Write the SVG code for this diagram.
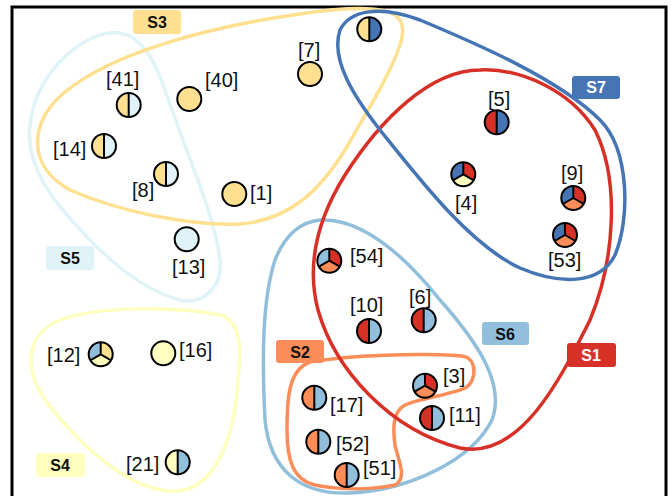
<svg xmlns="http://www.w3.org/2000/svg" xmlns:xlink="http://www.w3.org/1999/xlink" width="671" height="496" viewBox="0 0 671 496">
<style>
.hull{fill:none;stroke-width:3.5}
.lbl{font-family:"Liberation Sans",Arial,sans-serif;font-size:20px;fill:#111}
.badge text{font-family:"Liberation Sans",Arial,sans-serif;font-size:16px;font-weight:bold;text-anchor:middle}
.o{fill:none;stroke:#000;stroke-width:2}
.d{stroke:#000;stroke-width:2;fill:none}
</style>
<defs>
<path id="hl" d="M0,-12 A12,12 0 0 0 0,12 Z"/>
<path id="hr" d="M0,-12 A12,12 0 0 1 0,12 Z"/>
<path id="tl" d="M0,0 L0,-12 A12,12 0 0 0 -10.39,6 Z"/>
<path id="tr" d="M0,0 L0,-12 A12,12 0 0 1 10.39,6 Z"/>
<path id="bt" d="M0,0 L-10.39,6 A12,12 0 0 0 10.39,6 Z"/>
<path id="v" d="M0,-12 V12"/>
<path id="y" d="M0,0 V-12 M0,0 L-10.39,6 M0,0 L10.39,6"/>
<circle id="c" r="12"/>
</defs>
<rect x="12" y="7" width="654" height="600" fill="#fff" stroke="#000" stroke-width="3"/>

<g id="connectors">
<path id="S5-hull" class="hull" stroke="#e0f3f8" d="M110,33 C130,30 150,45 165,90 C185,150 215,215 220,260 C223,290 200,305 180,300 C150,292 120,270 95,245 C50,200 25,165 30,125 C35,75 80,35 110,33 Z"/>
<path id="S3-hull" class="hull" stroke="#fee090" stroke-width="4" d="M395,15 C380,5 340,8 300,14 C200,28 110,55 65,92 C30,120 25,165 70,190 C120,212 190,226 240,224 C290,220 320,190 345,150 C365,115 390,75 400,45 C405,30 402,20 395,15 Z"/>
<path id="S4-hull" class="hull" stroke="#ffffbf" stroke-width="4" d="M60,320 C100,305 180,307 220,315 C245,322 240,360 238,380 C235,430 220,480 185,490 C150,497 110,470 80,440 C50,410 25,380 32,350 C36,335 45,326 60,320 Z"/>
<path id="S6-hull" class="hull" stroke="#91bfdb" d="M320,220 C360,218 400,250 440,300 C480,345 505,385 492,420 C472,460 410,490 350,493 C300,495 270,470 265,420 C262,360 262,300 275,260 C285,235 300,222 320,220 Z"/>
<path id="S2-hull" class="hull" stroke="#fc8d59" d="M310,362 C350,355 420,353 462,356 C478,358 477,382 465,388 C450,395 420,398 405,405 C392,412 393,430 395,445 C398,460 408,478 395,485 C370,490 340,490 315,485 C293,480 287,460 287,430 C287,400 288,370 310,362 Z"/>
<path id="S1-hull" class="hull" stroke="#d73027" d="M480,70 C430,70 380,120 345,175 C320,215 305,260 318,310 C335,370 390,430 460,448 C520,460 560,380 590,320 C615,260 620,180 595,130 C570,90 520,68 480,70 Z"/>
<path id="S7-hull" class="hull" stroke="#4575b4" d="M340,30 C350,10 380,5 420,20 C480,45 560,80 600,120 C630,150 630,220 615,255 C600,285 560,285 520,268 C470,245 420,180 380,130 C355,98 330,60 340,30 Z"/>
</g>

<g id="badges" class="badge">
<g id="S3"><rect x="133" y="10" width="48" height="24" rx="3" fill="#fee090"/><text x="157" y="28" fill="#111">S3</text></g>
<g id="S7"><rect x="572" y="76" width="48" height="23" rx="3" fill="#4575b4"/><text x="596" y="93" fill="#fff">S7</text></g>
<g id="S5"><rect x="46" y="246" width="48" height="24" rx="3" fill="#e0f3f8"/><text x="70" y="264" fill="#111">S5</text></g>
<g id="S4"><rect x="36" y="453" width="49" height="24" rx="3" fill="#ffffbf"/><text x="60" y="471" fill="#111">S4</text></g>
<g id="S6"><rect x="482" y="322" width="47" height="23" rx="3" fill="#91bfdb"/><text x="505" y="340" fill="#111">S6</text></g>
<g id="S2"><rect x="276" y="340" width="48" height="23" rx="3" fill="#fc8d59"/><text x="300" y="358" fill="#111">S2</text></g>
<g id="S1"><rect x="567" y="343" width="49" height="24" rx="3" fill="#d73027"/><text x="591" y="361" fill="#fff">S1</text></g>
</g>

<g id="n7" transform="translate(310,74)"><use href="#c" fill="#fee090"/><use href="#c" class="o"/></g>
<text class="lbl" x="298" y="57">[7]</text>
<g id="n40" transform="translate(189.3,99)"><use href="#c" fill="#fee090"/><use href="#c" class="o"/></g>
<text class="lbl" x="205" y="87">[40]</text>
<g id="n41" transform="translate(128.7,105)"><use href="#hl" fill="#fee090"/><use href="#hr" fill="#e0f3f8"/><use href="#v" class="d"/><use href="#c" class="o"/></g>
<text class="lbl" x="106" y="86">[41]</text>
<g id="n14" transform="translate(104,146)"><use href="#hl" fill="#fee090"/><use href="#hr" fill="#e0f3f8"/><use href="#v" class="d"/><use href="#c" class="o"/></g>
<text class="lbl" x="53" y="156">[14]</text>
<g id="n8" transform="translate(166,174)"><use href="#hl" fill="#fee090"/><use href="#hr" fill="#e0f3f8"/><use href="#v" class="d"/><use href="#c" class="o"/></g>
<text class="lbl" x="132" y="197">[8]</text>
<g id="n1" transform="translate(234.3,194)"><use href="#c" fill="#fee090"/><use href="#c" class="o"/></g>
<text class="lbl" x="250" y="200">[1]</text>
<g id="n13" transform="translate(186.7,239.3)"><use href="#c" fill="#e0f3f8"/><use href="#c" class="o"/></g>
<text class="lbl" x="172" y="274">[13]</text>
<g id="ntop" transform="translate(369.3,29.3)"><use href="#hl" fill="#fee090"/><use href="#hr" fill="#4575b4"/><use href="#v" class="d"/><use href="#c" class="o"/></g>
<g id="n5" transform="translate(496.7,122.3)"><use href="#hl" fill="#d73027"/><use href="#hr" fill="#4575b4"/><use href="#v" class="d"/><use href="#c" class="o"/></g>
<text class="lbl" x="488" y="106">[5]</text>
<g id="n4" transform="translate(463.3,174.3)"><use href="#tl" fill="#4575b4"/><use href="#tr" fill="#d73027"/><use href="#bt" fill="#ffffbf"/><use href="#y" class="d"/><use href="#c" class="o"/></g>
<text class="lbl" x="455" y="210">[4]</text>
<g id="n9" transform="translate(573.3,198)"><use href="#tl" fill="#4575b4"/><use href="#tr" fill="#d73027"/><use href="#bt" fill="#fc8d59"/><use href="#y" class="d"/><use href="#c" class="o"/></g>
<text class="lbl" x="561" y="180">[9]</text>
<g id="n53" transform="translate(565,235)"><use href="#tl" fill="#4575b4"/><use href="#tr" fill="#d73027"/><use href="#bt" fill="#fc8d59"/><use href="#y" class="d"/><use href="#c" class="o"/></g>
<text class="lbl" x="548" y="267">[53]</text>
<g id="n54" transform="translate(329.3,260.7)"><use href="#tl" fill="#91bfdb"/><use href="#tr" fill="#d73027"/><use href="#bt" fill="#fc8d59"/><use href="#y" class="d"/><use href="#c" class="o"/></g>
<text class="lbl" x="350" y="263">[54]</text>
<g id="n10" transform="translate(369,331)"><use href="#hl" fill="#d73027"/><use href="#hr" fill="#91bfdb"/><use href="#v" class="d"/><use href="#c" class="o"/></g>
<text class="lbl" x="350" y="312">[10]</text>
<g id="n6" transform="translate(423.7,320.3)"><use href="#hl" fill="#d73027"/><use href="#hr" fill="#91bfdb"/><use href="#v" class="d"/><use href="#c" class="o"/></g>
<text class="lbl" x="409" y="304">[6]</text>
<g id="n3" transform="translate(425,385.7)"><use href="#tl" fill="#91bfdb"/><use href="#tr" fill="#d73027"/><use href="#bt" fill="#fc8d59"/><use href="#y" class="d"/><use href="#c" class="o"/></g>
<text class="lbl" x="443" y="383">[3]</text>
<g id="n11" transform="translate(432,418)"><use href="#hl" fill="#d73027"/><use href="#hr" fill="#91bfdb"/><use href="#v" class="d"/><use href="#c" class="o"/></g>
<text class="lbl" x="449" y="422">[11]</text>
<g id="n17" transform="translate(314.3,397.7)"><use href="#hl" fill="#fc8d59"/><use href="#hr" fill="#91bfdb"/><use href="#v" class="d"/><use href="#c" class="o"/></g>
<text class="lbl" x="330" y="412">[17]</text>
<g id="n52" transform="translate(318.3,441.7)"><use href="#hl" fill="#fc8d59"/><use href="#hr" fill="#91bfdb"/><use href="#v" class="d"/><use href="#c" class="o"/></g>
<text class="lbl" x="336" y="451">[52]</text>
<g id="n51" transform="translate(346.7,475)"><use href="#hl" fill="#fc8d59"/><use href="#hr" fill="#91bfdb"/><use href="#v" class="d"/><use href="#c" class="o"/></g>
<text class="lbl" x="363" y="475">[51]</text>
<g id="n12" transform="translate(100.7,354.3)"><use href="#tl" fill="#91bfdb"/><use href="#tr" fill="#fee090"/><use href="#bt" fill="#ffffbf"/><use href="#y" class="d"/><use href="#c" class="o"/></g>
<text class="lbl" x="47" y="362">[12]</text>
<g id="n16" transform="translate(163.3,353.3)"><use href="#c" fill="#ffffbf"/><use href="#c" class="o"/></g>
<text class="lbl" x="179" y="357">[16]</text>
<g id="n21" transform="translate(177.7,462.3)"><use href="#hl" fill="#ffffbf"/><use href="#hr" fill="#91bfdb"/><use href="#v" class="d"/><use href="#c" class="o"/></g>
<text class="lbl" x="126" y="471">[21]</text>
</svg>
